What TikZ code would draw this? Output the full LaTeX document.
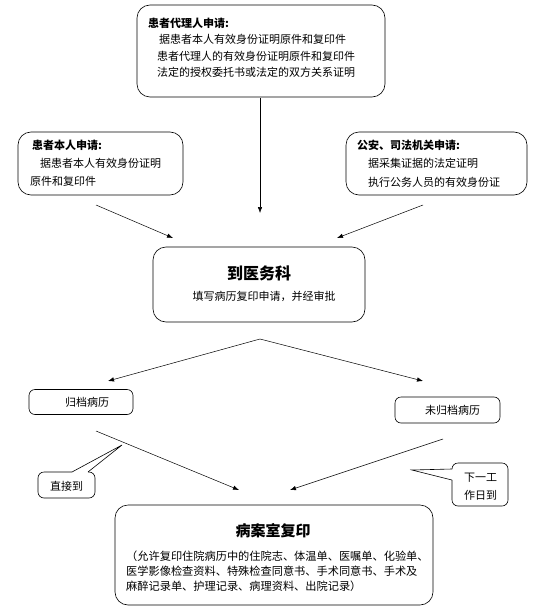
\documentclass[tikz,border=0pt]{standalone}
\usepackage{fontspec}
\newfontfamily\cjk{Noto Sans CJK SC}
\usetikzlibrary{arrows.meta}

\tikzset{
  bigbox/.style={draw, rounded corners=13pt, line width=0.6pt, inner sep=0pt},
  smallbox/.style={draw, rounded corners=6pt, line width=0.6pt, inner sep=0pt},
  txt/.style={anchor=west, inner sep=0pt, font=\cjk\fontsize{11}{13}\selectfont},
  head/.style={anchor=west, inner sep=0pt, font=\cjk\bfseries\fontsize{11}{13}\selectfont},
  title/.style={inner sep=0pt, font=\cjk\bfseries\fontsize{16}{18}\selectfont},
  flow/.style={-{Latex[length=6pt,width=4.5pt]}, line width=0.5pt},
}

\begin{document}
\begin{tikzpicture}[x=1pt,y=-1pt]
\useasboundingbox (0,0) rectangle (536,615);
% boxes
\node[bigbox, minimum width=248pt, minimum height=92pt] (agent) at (261,51) {};
\node[bigbox, minimum width=165pt, minimum height=63pt] (self) at (100.5,163.5) {};
\node[bigbox, minimum width=181pt, minimum height=63pt] (police) at (436.5,163.5) {};
\node[bigbox, minimum width=212pt, minimum height=75pt] (medical) at (259,284.5) {};
\node[smallbox, minimum width=104pt, minimum height=25pt] (archived) at (81,402) {};
\node[smallbox, minimum width=105pt, minimum height=26pt] (unarchived) at (447.5,410) {};
\node[bigbox, minimum width=318pt, minimum height=100pt] (copyroom) at (274,555) {};

% texts of the boxes
\node[head] (agent-h) at (148,23) {患者代理人申请:};
\node[txt] (agent-1) at (159,39) {据患者本人有效身份证明原件和复印件};
\node[txt] (agent-2) at (157,56) {患者代理人的有效身份证明原件和复印件};
\node[txt] (agent-3) at (157,72) {法定的授权委托书或法定的双方关系证明};
\node[head] (self-h) at (32,145) {患者本人申请:};
\node[txt] (self-1) at (40,163) {据患者本人有效身份证明};
\node[txt] (self-2) at (30,181) {原件和复印件};
\node[head] (police-h) at (357,145) {公安、司法机关申请:};
\node[txt] (police-1) at (368,163) {据采集证据的法定证明};
\node[txt] (police-2) at (368,182) {执行公务人员的有效身份证};
\node[title] (medical-t) at (259,273) {到医务科};
\node[txt, anchor=center] (medical-1) at (264,296) {填写病历复印申请，并经审批};
\node[txt] (archived-t) at (65,402) {归档病历};
\node[txt] (unarchived-t) at (425,410) {未归档病历};
\node[title, font=\cjk\bfseries\fontsize{15}{17}\selectfont] (copyroom-t) at (273,531) {病案室复印};
\node[txt, font=\cjk\fontsize{11.2}{13}\selectfont] (copyroom-1) at (126,556) {（允许复印住院病历中的住院志、体温单、医嘱单、化验单、};
\node[txt, font=\cjk\fontsize{11.2}{13}\selectfont] (copyroom-2) at (126,571) {医学影像检查资料、特殊检查同意书、手术同意书、手术及};
\node[txt, font=\cjk\fontsize{11.2}{13}\selectfont] (copyroom-3) at (126,586) {麻醉记录单、护理记录、病理资料、出院记录）};

% callouts
\coordinate (h-tip) at (122,445);
\coordinate (i-tip) at (412,470);
\draw[line width=0.6pt, rounded corners=6pt] (72,472) -- (38,472) -- (38,498) -- (95,498) -- (95,472) -- (88,472);
\draw[line width=0.6pt] (72,472) -- (h-tip) -- (88,472);
\node[txt, anchor=center] (direct) at (66.5,486) {直接到};
\draw[line width=0.6pt, rounded corners=6pt] (452,469) -- (452,463) -- (508,463) -- (508,506) -- (452,506) -- (452,480);
\draw[line width=0.6pt] (452,469) -- (i-tip) -- (452,480);
\node[txt] (nextday-1) at (464,478) {下一工};
\node[txt] (nextday-2) at (464,495) {作日到};

% connectors
\coordinate (a1) at (260,98);   \coordinate (a2) at (260,213);
\coordinate (b1) at (96,205);   \coordinate (b2) at (173,238);
\coordinate (c1) at (423,205);  \coordinate (c2) at (337,238);
\coordinate (split) at (260,339);
\coordinate (e-in) at (108,381); \coordinate (f-in) at (423,381);
\coordinate (e-out) at (96,431); \coordinate (g-in1) at (239,490);
\coordinate (f-out) at (443,439); \coordinate (g-in2) at (290,490);
\draw[flow] (a1) -- (a2);
\draw[flow] (b1) -- (b2);
\draw[flow] (c1) -- (c2);
\draw[flow] (split) -- (e-in);
\draw[flow] (split) -- (f-in);
\draw[flow] (e-out) -- (g-in1);
\draw[flow] (f-out) -- (g-in2);
\end{tikzpicture}
\end{document}
